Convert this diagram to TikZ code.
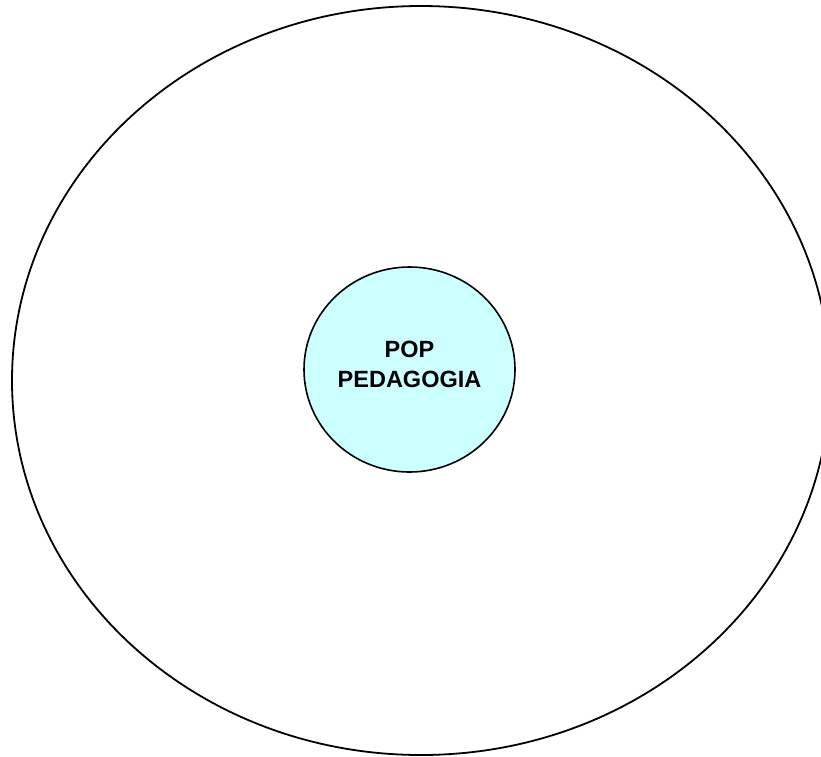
\documentclass[tikz,border=0pt]{standalone}
\usepackage{fontspec}
\setmainfont{Liberation Sans}
\usetikzlibrary{shapes.geometric}
\definecolor{lightcyan}{HTML}{CCFFFF}
\tikzset{
  outer/.style={ellipse, draw=black, line width=1.8pt, minimum width=818pt, minimum height=749pt, inner sep=0pt},
  core/.style={ellipse, draw=black, fill=lightcyan, line width=1.6pt, minimum width=211pt, minimum height=205pt, inner sep=0pt},
  lbl/.style={align=center, font=\fontsize{23.5}{30}\selectfont\bfseries, inner sep=0pt}
}
\begin{document}
\begin{tikzpicture}[x=1pt,y=-1pt]
\useasboundingbox (0,0) rectangle (821,756);
\node[outer] (world) at (421,380.5) {};
\node[core] (pop) at (409.5,369.5) {};
\node[lbl] (title) at (409.5,364) {POP\\PEDAGOGIA};
\end{tikzpicture}
\end{document}
